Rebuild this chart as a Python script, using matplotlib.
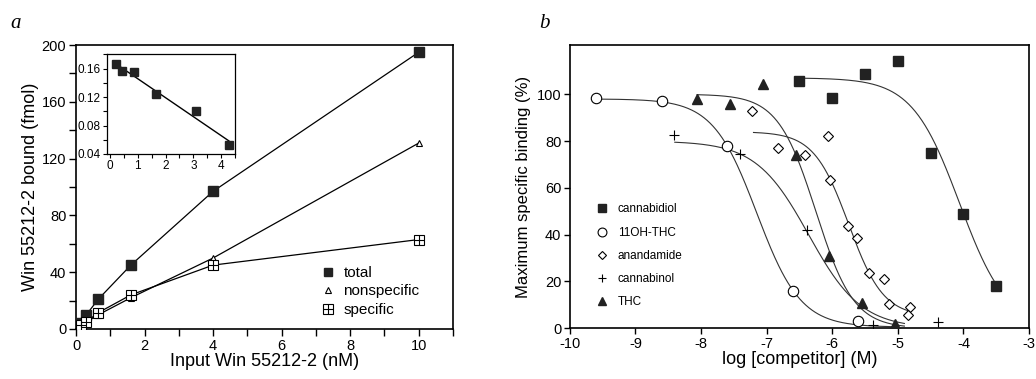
import numpy as np
import matplotlib
matplotlib.use("Agg")
import matplotlib.pyplot as plt
from matplotlib.lines import Line2D
from matplotlib.legend_handler import HandlerTuple

plt.rcParams["font.family"] = ["Liberation Sans", "DejaVu Sans"]
plt.rcParams["axes.unicode_minus"] = False

# ---- panel a: saturation binding ----
input_nm = [0.15, 0.3, 0.65, 1.6, 4.0, 10.0]
total = [4, 10, 21, 45, 97, 195]
nonspecific = [2, 5, 10, 22, 50, 131]
specific = [3, 5, 11.5, 24, 45, 63]

# Scatchard inset
scat_bound = [0.2, 0.42, 0.85, 1.66, 3.1, 4.28]
scat_ratio = [0.166, 0.157, 0.155, 0.124, 0.100, 0.052]

# ---- panel b: competition binding ----
cbd_x = [-6.5, -6.0, -5.5, -5.0, -4.5, -4.0, -3.5]
cbd_y = [105.7, 98.3, 108.7, 114.2, 75, 48.8, 18.2]
oh_x = [-9.6, -8.6, -7.6, -6.6, -5.6]
oh_y = [98.5, 97, 78, 16, 3]
ana_x = [-7.22, -6.83, -6.42, -6.06, -6.03, -5.76, -5.62, -5.44, -5.21, -5.14, -4.82, -4.85]
ana_y = [93, 77, 74, 82, 63.5, 43.5, 38.5, 23.5, 21, 10.5, 9, 5.5]
cbn_x = [-8.41, -7.41, -6.39, -5.38, -4.39]
cbn_y = [82.5, 74.5, 42, 1.5, 2.5]
thc_x = [-8.06, -7.56, -7.05, -6.55, -6.05, -5.54, -5.05]
thc_y = [98, 96, 104.5, 74, 31, 11, 2]

# logistic fit parameters: top, bottom, log IC50, Hill slope, drawn range
fit_cbd = (107, 0, -4.06, 1.2, -6.5, -3.5)
fit_oh = (98, 0.5, -7.15, 1.3, -9.6, -5.0)
fit_ana = (84, 5, -5.75, 1.64, -7.2, -4.82)
fit_cbn = (80, 0, -6.36, 1.08, -8.4, -4.9)
fit_thc = (100, 0, -6.25, 1.5, -8.06, -4.9)


def logistic(params):
    top, bottom, c, h, x0, x1 = params
    x = np.linspace(x0, x1, 300)
    return x, bottom + (top - bottom) / (1 + 10 ** ((x - c) * h))


fig = plt.figure(figsize=(10.36, 3.79), dpi=100)

# ---------- panel a ----------
ax = fig.add_axes([0.0734, 0.132, 0.3639, 0.749])
lw = 0.9
ax.plot(input_nm, total, "-", color="black", lw=lw, marker="s", ms=7,
        mfc="#222222", mec="#222222", zorder=3)
ax.plot(input_nm, nonspecific, "-", color="black", lw=lw, marker="^", ms=4.5,
        mfc="white", mec="black", mew=0.8, zorder=3)
ax.plot(input_nm, specific, "-", color="black", lw=lw, marker="s", ms=7,
        mfc="white", mec="black", mew=0.8, zorder=4)
ax.plot(input_nm, specific, "none", marker="+", ms=7, mec="black", mew=0.8, zorder=5)

ax.set_xlim(0, 11)
ax.set_ylim(0, 200)
ax.set_xticks(np.arange(0, 12, 1))
ax.set_xticklabels([str(v) if v % 2 == 0 and v <= 10 else "" for v in range(0, 12)])
ax.set_yticks(np.arange(0, 201, 20))
ax.set_yticklabels([str(v) if v % 40 == 0 else "" for v in range(0, 201, 20)])
ax.tick_params(direction="out", length=5, width=1, labelsize=10.5, pad=2)
for s in ax.spines.values():
    s.set_linewidth(1.2)
ax.set_xlabel("Input Win 55212-2 (nM)", fontsize=13, labelpad=0)
ax.set_ylabel("Win 55212-2 bound (fmol)", fontsize=13, labelpad=2)

h_total = Line2D([], [], ls="none", marker="s", ms=6, mfc="#222222", mec="#222222")
h_non = Line2D([], [], ls="none", marker="^", ms=4, mfc="white", mec="black", mew=0.8)
h_sq = Line2D([], [], ls="none", marker="s", ms=6.5, mfc="white", mec="black", mew=0.8)
h_pl = Line2D([], [], ls="none", marker="+", ms=6.5, mec="black", mew=0.8)
ax.legend([h_total, h_non, (h_sq, h_pl)], ["total", "nonspecific", "specific"],
          handler_map={tuple: HandlerTuple(ndivide=1)},
          loc="upper left", bbox_to_anchor=(0.62, 0.26), frameon=False,
          fontsize=11, handlelength=1.0, handletextpad=0.5, labelspacing=0.3,
          borderpad=0.2)

# inset: Scatchard plot
axi = fig.add_axes([0.103, 0.5937, 0.1238, 0.263])
axi.plot(scat_bound, scat_ratio, "s", ms=6, mfc="#222222", mec="#222222", zorder=3)
k, b = np.polyfit(scat_bound, scat_ratio, 1)
xf = np.array([min(scat_bound), max(scat_bound)])
axi.plot(xf, k * xf + b, "-", color="black", lw=1.0)
axi.set_xlim(-0.12, 4.48)
axi.set_ylim(0.04, 0.18)
axi.set_xticks(np.arange(0, 4.6, 0.5))
axi.set_xticklabels([str(int(v)) if v == int(v) else "" for v in np.arange(0, 4.6, 0.5)])
axi.set_yticks(np.arange(0.04, 0.181, 0.02))
axi.set_yticklabels(["%.2f" % v if round(v * 100) % 4 == 0 else ""
                     for v in np.arange(0.04, 0.181, 0.02)])
axi.tick_params(direction="out", length=3, width=0.8, labelsize=8.5, pad=1.5)
for s in axi.spines.values():
    s.set_linewidth(0.9)

# ---------- panel b ----------
bx = fig.add_axes([0.550, 0.1338, 0.4433, 0.7472])
for params in (fit_cbd, fit_oh, fit_ana, fit_cbn, fit_thc):
    xc, yc = logistic(params)
    bx.plot(xc, yc, "-", color="#333333", lw=0.8, zorder=2)

bx.plot(cbd_x, cbd_y, "s", ms=7, mfc="#222222", mec="#222222", zorder=3,
        label="cannabidiol")
bx.plot(oh_x, oh_y, "o", ms=7.5, mfc="white", mec="black", mew=0.8, zorder=3,
        label="11OH-THC")
bx.plot(ana_x, ana_y, "D", ms=5, mfc="white", mec="black", mew=0.8, zorder=3,
        label="anandamide")
bx.plot(cbn_x, cbn_y, "+", ms=7, mec="black", mew=0.8, zorder=3,
        label="cannabinol")
bx.plot(thc_x, thc_y, "^", ms=7, mfc="#222222", mec="#222222", zorder=3,
        label="THC")

bx.set_xlim(-10, -3)
bx.set_ylim(0, 121)
bx.set_xticks(np.arange(-10, -2, 1))
bx.set_yticks(np.arange(0, 101, 20))
bx.tick_params(direction="out", length=4, width=1, labelsize=10.5, pad=2)
for s in bx.spines.values():
    s.set_linewidth(1.2)
bx.set_xlabel("log [competitor] (M)", fontsize=13, labelpad=0)
bx.set_ylabel("Maximum specific binding (%)", fontsize=12, labelpad=4)
bx.legend(loc="upper left", bbox_to_anchor=(0.04, 0.47), frameon=False,
          fontsize=8.5, handlelength=1.0, handletextpad=0.8, labelspacing=0.95,
          borderpad=0.2, markerscale=0.85)

fig.text(0.010, 0.925, "a", fontsize=15, style="italic",
         family=["Liberation Serif", "DejaVu Serif"])
fig.text(0.520, 0.925, "b", fontsize=15, style="italic",
         family=["Liberation Serif", "DejaVu Serif"])

fig.savefig("out.png", dpi=100, facecolor="white")
